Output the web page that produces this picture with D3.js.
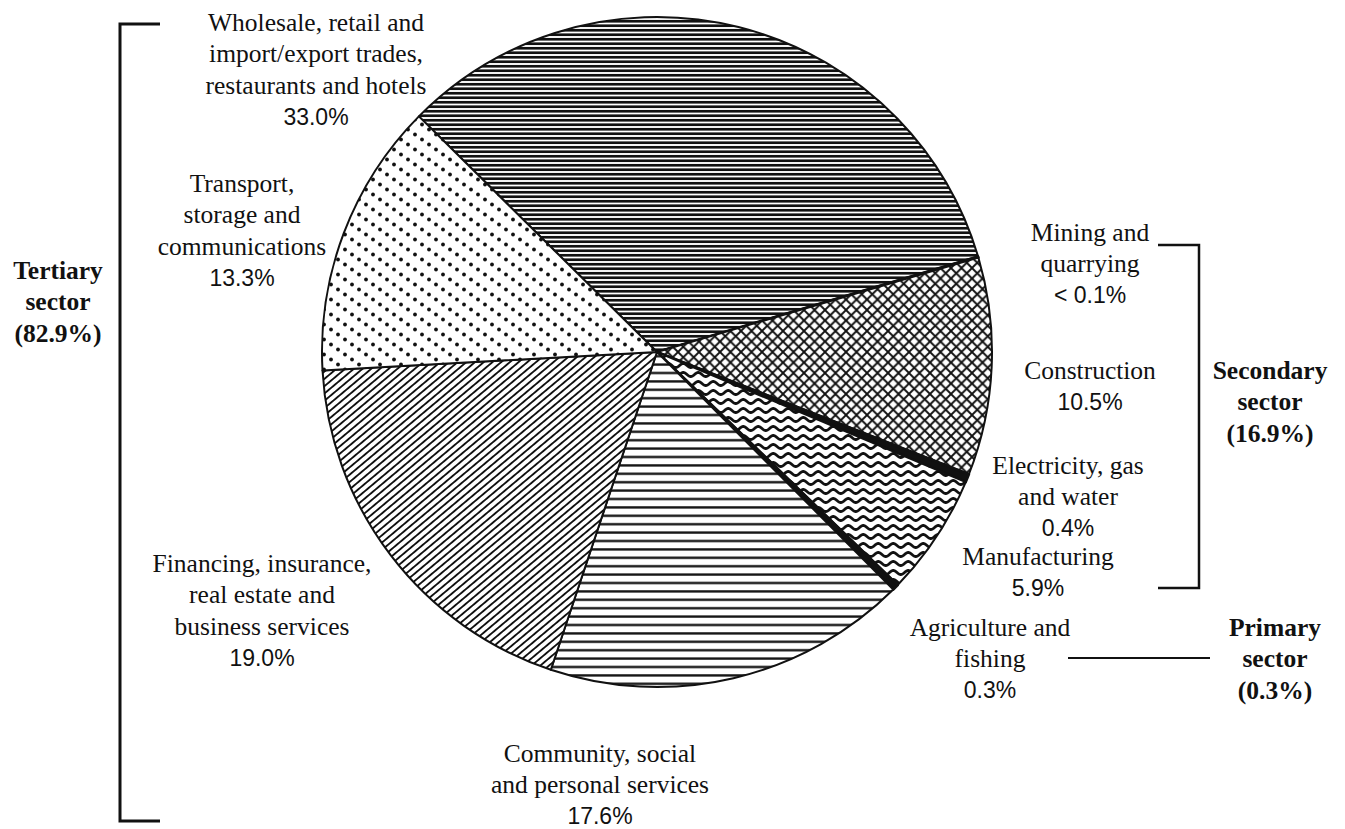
<!DOCTYPE html>
<html>
<head>
<meta charset="utf-8">
<script src="https://cdn.jsdelivr.net/npm/d3@7"></script>
<style>
  html, body { margin: 0; padding: 0; background: #fff; }
  svg { display: block; }
  .lbl { font-family: "Liberation Serif", "Times New Roman", serif; font-size: 25.5px; fill: #111; }
  .pct { font-family: "Liberation Sans", Arial, sans-serif; font-size: 23px; fill: #111; }
  .grp { font-family: "Liberation Serif", "Times New Roman", serif; font-size: 25.5px; font-weight: bold; fill: #111; }
</style>
</head>
<body>
<svg id="chart" width="1345" height="829"></svg>
<script>
// Employment shares by industry, clockwise from the wholesale/retail slice
const industries = [
  "Wholesale, retail and import/export trades, restaurants and hotels",
  "Mining and quarrying",
  "Construction",
  "Electricity, gas and water",
  "Manufacturing",
  "Agriculture and fishing",
  "Community, social and personal services",
  "Financing, insurance, real estate and business services",
  "Transport, storage and communications"
];
const shares = [33.0, 0.05, 10.5, 0.4, 5.9, 0.3, 17.6, 19.0, 13.3];
const shareLabels = ["33.0%", "< 0.1%", "10.5%", "0.4%", "5.9%", "0.3%", "17.6%", "19.0%", "13.3%"];
const labelLines = [
  ["Wholesale, retail and", "import/export trades,", "restaurants and hotels"],
  ["Mining and", "quarrying"],
  ["Construction"],
  ["Electricity, gas", "and water"],
  ["Manufacturing"],
  ["Agriculture and", "fishing"],
  ["Community, social", "and personal services"],
  ["Financing, insurance,", "real estate and", "business services"],
  ["Transport,", "storage and", "communications"]
];
const sectorNames = [["Tertiary", "sector"], ["Secondary", "sector"], ["Primary", "sector"]];
const sectorShares = [82.9, 16.9, 0.3];

// Layout: fill pattern id per slice and label anchors (centre x, first line y)
const fills = ["hlineDense", "solid", "crossHatch", "solid", "waves", "solid", "hlineWide", "diag", "dots"];
const labelPos = [
  [316, 22], [1090, 232], [1090, 370], [1068, 465], [1038, 556],
  [990, 627], [600, 753], [262, 563], [242, 183]
];
const sectorPos = [[58, 270], [1270, 370], [1275, 627]];
const lineH = 31.5;

const svg = d3.select("#chart");
const cx = 657, cy = 352, R = 335;

// ---- fill patterns ----
const defs = svg.append("defs");

function linePattern(id, gap, width, angle) {
  const p = defs.append("pattern").attr("id", id)
    .attr("patternUnits", "userSpaceOnUse")
    .attr("width", 40).attr("height", gap);
  if (angle) p.attr("patternTransform", `rotate(${angle})`);
  p.append("rect").attr("width", 40).attr("height", gap).attr("fill", "#fff");
  p.append("line").attr("x1", 0).attr("x2", 40)
    .attr("y1", gap / 2).attr("y2", gap / 2)
    .attr("stroke", "#111").attr("stroke-width", width);
}
linePattern("hlineDense", 4.5, 2.5, 0);
linePattern("hlineWide", 8.4, 2.2, 0);
linePattern("diag", 5.6, 1.7, -40);

// diamond cross-hatch
(function () {
  const s = 10.5;
  const p = defs.append("pattern").attr("id", "crossHatch")
    .attr("patternUnits", "userSpaceOnUse").attr("width", s).attr("height", s);
  p.append("rect").attr("width", s).attr("height", s).attr("fill", "#fff");
  p.append("path")
    .attr("d", `M0,0L${s},${s}M${s},0L0,${s}`)
    .attr("stroke", "#111").attr("stroke-width", 1.9).attr("fill", "none");
})();

// wavy lines
(function () {
  const w = 15, h = 9;
  const p = defs.append("pattern").attr("id", "waves")
    .attr("patternUnits", "userSpaceOnUse").attr("width", w).attr("height", h);
  p.append("rect").attr("width", w).attr("height", h).attr("fill", "#fff");
  const pts = d3.range(-2, 33).map(i => [i * w / 30, h / 2 + 2 * Math.sin(i / 30 * 2 * Math.PI)]);
  p.append("path").attr("d", d3.line()(pts))
    .attr("stroke", "#111").attr("stroke-width", 2.8).attr("fill", "none");
})();

// staggered dots
(function () {
  const w = 21, h = 15;
  const p = defs.append("pattern").attr("id", "dots")
    .attr("patternUnits", "userSpaceOnUse").attr("width", w).attr("height", h);
  p.append("rect").attr("width", w).attr("height", h).attr("fill", "#fff");
  [[3, 2.5], [10, 7.5], [17, 12.5]].forEach(([x, y]) =>
    p.append("circle").attr("cx", x).attr("cy", y).attr("r", 1.9).attr("fill", "#111"));
})();

// ---- pie ----
const startDeg = -45.3;
const pie = d3.pie().sort(null).value(d => d)
  .startAngle(startDeg * Math.PI / 180)
  .endAngle((startDeg + 360) * Math.PI / 180);
const arc = d3.arc().innerRadius(0).outerRadius(R);

const g = svg.append("g").attr("transform", `translate(${cx},${cy})`);
g.selectAll("path.slice")
  .data(pie(shares))
  .join("path")
  .attr("class", "slice")
  .attr("d", arc)
  .attr("fill", (d, i) => fills[i] === "solid" ? "#111" : `url(#${fills[i]})`)
  .attr("stroke", "#111")
  .attr("stroke-width", (d, i) => fills[i] === "solid" ? 2.6 : 2)
  .attr("stroke-linejoin", "round");

// ---- slice labels ----
labelLines.forEach((lines, i) => {
  const [x, y] = labelPos[i];
  const t = svg.append("g");
  lines.forEach((ln, k) => {
    t.append("text").attr("class", "lbl")
      .attr("x", x).attr("y", y + k * lineH).attr("dy", "0.35em")
      .attr("text-anchor", "middle").text(ln);
  });
  t.append("text").attr("class", "pct")
    .attr("x", x).attr("y", y + lines.length * lineH).attr("dy", "0.35em")
    .attr("text-anchor", "middle").text(shareLabels[i]);
});

// ---- sector group labels ----
const fmt = d3.format(".1f");
sectorNames.forEach((lines, i) => {
  const [x, y] = sectorPos[i];
  lines.concat([`(${fmt(sectorShares[i])}%)`]).forEach((ln, k) => {
    svg.append("text").attr("class", "grp")
      .attr("x", x).attr("y", y + k * 31.5).attr("dy", "0.35em")
      .attr("text-anchor", "middle").text(ln);
  });
});

// ---- brackets ----
const bracket = svg.append("g").attr("fill", "none").attr("stroke", "#111");
bracket.append("path").attr("d", "M160,24H120V821H160").attr("stroke-width", 3);
bracket.append("path").attr("d", "M1158,245H1199V588H1158").attr("stroke-width", 2.5);
bracket.append("path").attr("d", "M1068,658H1210").attr("stroke-width", 2);
</script>
</body>
</html>
